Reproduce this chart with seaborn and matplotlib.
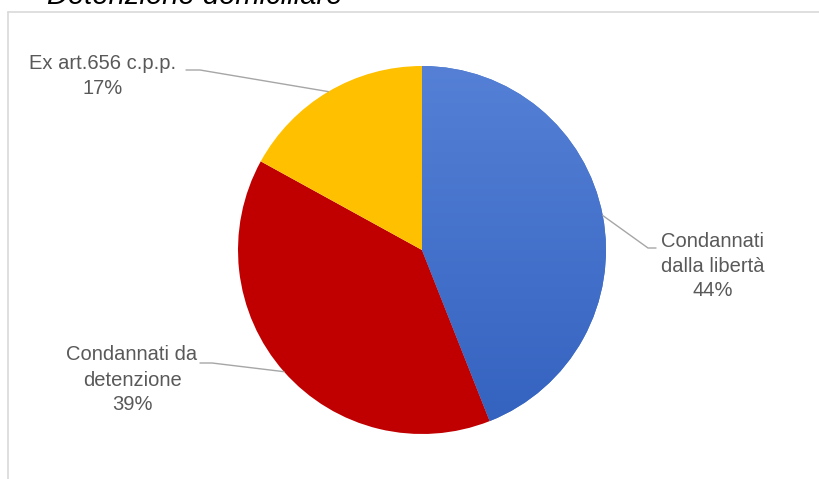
import numpy as np
import matplotlib
matplotlib.use("Agg")
import matplotlib.pyplot as plt
import seaborn as sns

# dati
etichette = ["Condannati\ndalla libertà", "Condannati da\ndetenzione", "Ex art.656 c.p.p."]
valori = [44, 39, 17]
colori = ["#4472C4", "#C00000", "#FFC000"]
titolo = "Detenzione domiciliare"

sns.set_theme(style="white")
plt.rcParams['font.family'] = ['Liberation Sans', 'DejaVu Sans']

W, H = 819, 479
fig = plt.figure(figsize=(W / 100, H / 100), dpi=100)
ax = fig.add_axes([0, 0, 1, 1])

# centro e raggio della torta in pixel (y verso l'alto)
cx, cy, r = 422, H - 250, 184

wedges, _ = ax.pie(valori, colors=colori, startangle=90, counterclock=False,
                   center=(cx, cy), radius=r, frame=True,
                   wedgeprops=dict(linewidth=0))
ax.set_xlim(0, W)
ax.set_ylim(0, H)
ax.axis('off')

# sfumatura sulla fetta blu
grad = np.linspace(0, 1, 256).reshape(-1, 1)
cmap = matplotlib.colors.LinearSegmentedColormap.from_list("blu", ["#3362BF", "#5580D6"])
img = ax.imshow(grad, extent=(cx - r, cx + r, cy - r, cy + r), origin='lower',
                cmap=cmap, aspect='auto', zorder=wedges[0].get_zorder() + 0.1)
img.set_clip_path(wedges[0])

# bordo del riquadro
grigio_bordo = "#D9D9D9"
ax.plot([7.5, 7.5], [0, H - 12], color=grigio_bordo, lw=1.2)
ax.plot([7.5, W], [H - 12, H - 12], color=grigio_bordo, lw=1.2)

# etichette con linee guida
testo_pos = [(713, H - 266), (132, H - 380), (103, H - 76)]
gomito = [(648, H - 248), (212, H - 363), (200, H - 70)]
fine = [(656, H - 248), (200, H - 363), (186, H - 70)]
grigio_testo = "#595959"
for w, lab, v, tp, gm, fn in zip(wedges, etichette, valori, testo_pos, gomito, fine):
    a_mid = np.deg2rad((w.theta1 + w.theta2) / 2)
    px, py = cx + r * np.cos(a_mid), cy + r * np.sin(a_mid)
    ax.plot([px, gm[0], fn[0]], [py, gm[1], fn[1]], color="#A6A6A6", lw=1)
    ax.text(tp[0], tp[1], f"{lab}\n{v}%", ha='center', va='center',
            fontsize=14.5, color=grigio_testo, linespacing=1.4)

fig.text(47 / W, 1 - 4 / H, titolo, ha='left', va='baseline', fontsize=21,
         style='italic', color="#000000")

fig.savefig("out.png", dpi=100)
